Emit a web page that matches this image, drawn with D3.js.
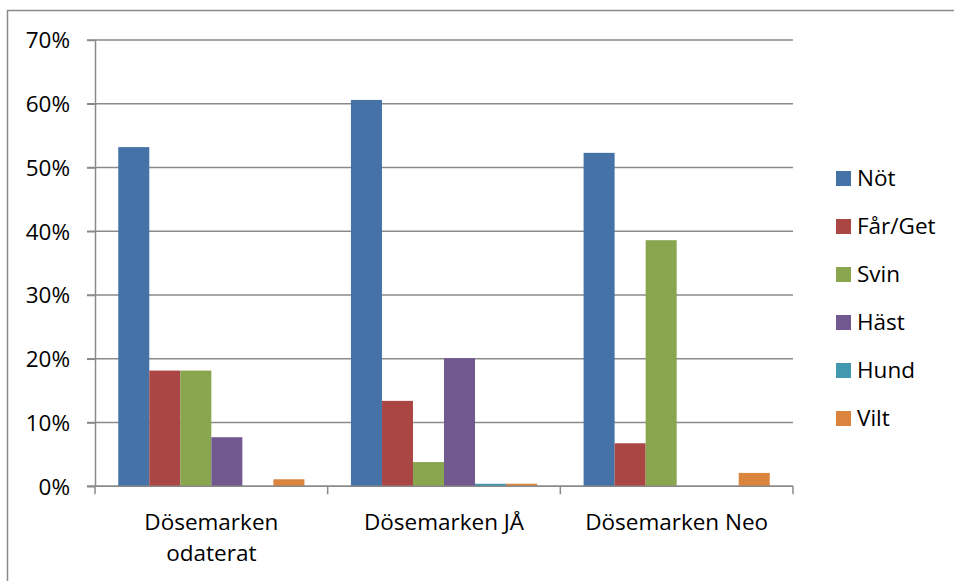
<!DOCTYPE html>
<html><head><meta charset="utf-8">
<script src="https://cdn.jsdelivr.net/npm/d3@7"></script>
<style>body{margin:0;background:#fff}svg{display:block}text{font-family:"Open Sans",sans-serif;fill:#000}</style>
</head><body><svg id="c" width="954" height="581"></svg>
<script>
const categories = ["Dösemarken odaterat", "Dösemarken JÅ", "Dösemarken Neo"];
const seriesNames = ["Nöt", "Får/Get", "Svin", "Häst", "Hund", "Vilt"];
const seriesColors = ["#4572A7", "#AA4643", "#89A54E", "#71588F", "#4198AF", "#DB843D"];
const notValues  = [53.2, 60.6, 52.3];
const farValues  = [18.15, 13.4, 6.75];
const svinValues = [18.15, 3.8, 38.6];
const hastValues = [7.7, 20.1, 0];
const hundValues = [0, 0.4, 0];
const viltValues = [1.1, 0.4, 2.1];
const yTicks = [0, 10, 20, 30, 40, 50, 60, 70];

(function () {
const seriesValues = [notValues, farValues, svinValues, hastValues, hundValues, viltValues];
const svg = d3.select("#c");
const pLeft = 95, pRight = 793, pTop = 40, pBottom = 486.3;
const fs = "22.5px";

svg.append("rect").attr("x", 7.5).attr("y", 10.5).attr("width", 1000).attr("height", 1000)
  .attr("fill", "none").attr("stroke", "#8a8a8a").attr("stroke-width", 1.5);

const x0 = d3.scaleBand().domain(categories).range([pLeft, pRight]).paddingInner(0).paddingOuter(0);
const x1 = d3.scaleBand().domain(seriesNames).range([0, x0.bandwidth()]).paddingInner(0).paddingOuter(0.75);
const y = d3.scaleLinear().domain([0, 70]).range([pBottom, pTop]);

// gridlines
svg.append("g").selectAll("line").data(yTicks).join("line")
  .attr("x1", pLeft - 8).attr("x2", pRight)
  .attr("y1", d => y(d)).attr("y2", d => y(d))
  .attr("stroke", "#8a8a8a").attr("stroke-width", 1.5);

// y axis
const yAxis = d3.axisLeft(y).tickValues(yTicks).tickFormat(d => d + "%").tickSize(8).tickPadding(17);
const ya = svg.append("g").attr("transform", `translate(${pLeft},0)`).call(yAxis);
ya.select(".domain").attr("stroke", "#8a8a8a").attr("stroke-width", 1.5).attr("d", `M0.5,${pTop}V${pBottom}`);
ya.selectAll(".tick line").attr("stroke", "#8a8a8a").attr("stroke-width", 1.5);
ya.selectAll("text").style("font-size", fs).style("font-family", "'Open Sans',sans-serif").attr("dy", "0.35em").attr("fill", "#000");

// bars
const g = svg.append("g");
categories.forEach((c, ci) => {
  g.append("g").selectAll("rect").data(seriesNames).join("rect")
    .attr("x", s => x0(c) + x1(s))
    .attr("width", x1.bandwidth())
    .attr("y", (s, si) => y(seriesValues[si][ci]))
    .attr("height", (s, si) => pBottom - y(seriesValues[si][ci]))
    .attr("fill", (s, si) => seriesColors[si]);
});

// x axis
svg.append("line").attr("x1", pLeft - 8).attr("x2", pRight).attr("y1", pBottom).attr("y2", pBottom)
  .attr("stroke", "#8a8a8a").attr("stroke-width", 1.5);
const tickXs = categories.map(c => x0(c)).concat([pRight]);
svg.append("g").selectAll("line").data(tickXs).join("line")
  .attr("x1", d => d).attr("x2", d => d).attr("y1", pBottom).attr("y2", pBottom + 8)
  .attr("stroke", "#8a8a8a").attr("stroke-width", 1.5);

// category labels with wrapping
categories.forEach(c => {
  const cx = x0(c) + x0.bandwidth() / 2;
  const t = svg.append("text").attr("x", cx).attr("y", 530).attr("text-anchor", "middle").style("font-size", fs).text(c);
  if (t.node().getComputedTextLength() > x0.bandwidth() - 10) {
    const words = c.split(" ");
    t.text(null);
    words.forEach((w, i) => t.append("tspan").attr("x", cx).attr("y", 530 + i * 31).text(w));
  }
});

// legend
const lg = svg.append("g");
seriesNames.forEach((s, i) => {
  const cy = 178.5 + i * 48;
  lg.append("rect").attr("x", 836).attr("y", cy - 7.5).attr("width", 15).attr("height", 15).attr("fill", seriesColors[i]);
  lg.append("text").attr("x", 857).attr("y", cy).attr("dy", "0.35em").style("font-size", fs).text(s);
});
})();
</script></body></html>
